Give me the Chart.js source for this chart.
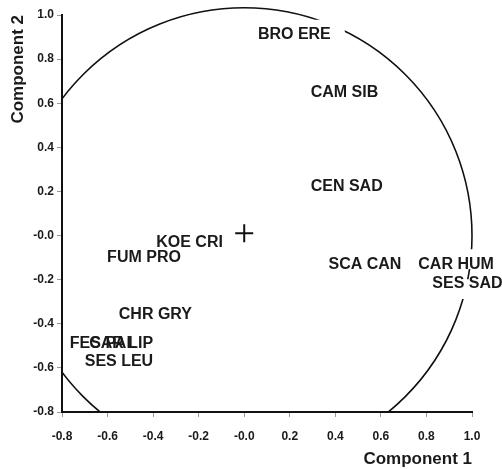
<!DOCTYPE html>
<html lang="en">
<head>
<meta charset="UTF-8">
<title>Component 1 vs Component 2</title>
<script src="https://cdn.jsdelivr.net/npm/chart.js@4"></script>
<style>
    body { margin: 0; background: #fff; }
    .wrap { width: 502px; height: 470px; position: relative; }
</style>
</head>
<body>
<div class="wrap"><canvas id="pca"></canvas></div>
<script>
// species labels and their loadings
const species = ['BRO ERE', 'CAM SIB', 'CEN SAD', 'SCA CAN', 'CAR HUM', 'SES SAD',
                 'KOE CRI', 'FUM PRO', 'CHR GRY', 'FES PAL', 'CAR LIP', 'SES LEU'];
const comp1 = [0.22, 0.44, 0.45, 0.53, 0.93, 0.98, -0.24, -0.44, -0.39, -0.62, -0.54, -0.55];
const comp2 = [0.91, 0.65, 0.22, -0.13, -0.13, -0.22, -0.03, -0.10, -0.36, -0.49, -0.49, -0.57];

// origin marker
const originX = [0];
const originY = [0.01];

const xTickLabels = ['-0.8', '-0.6', '-0.4', '-0.2', '-0.0', '0.2', '0.4', '0.6', '0.8', '1.0'];
const yTickLabels = ['-0.8', '-0.6', '-0.4', '-0.2', '-0.0', '0.2', '0.4', '0.6', '0.8', '1.0'];

const LABEL_FONT = 'bold 16px "Liberation Sans", Arial, sans-serif';

// gets the text boxes in pixels
function labelBoxes(chart) {
    const ctx = chart.ctx;
    const xs = chart.scales.x, ys = chart.scales.y;
    ctx.save();
    ctx.font = LABEL_FONT;
    const boxes = species.map((name, i) => {
        const w = ctx.measureText(name).width;
        const cx = xs.getPixelForValue(comp1[i]);
        const cy = ys.getPixelForValue(comp2[i]);
        return { name, cx, cy, w, h: 12 };
    });
    ctx.restore();
    return boxes;
}

const circlePlugin = {
    id: 'unitCircle',
    beforeDatasetsDraw(chart) {
        const { ctx, chartArea } = chart;
        const xs = chart.scales.x, ys = chart.scales.y;
        const cx = xs.getPixelForValue(0);
        const cy = ys.getPixelForValue(0);
        const r = xs.getPixelForValue(1) - cx;

        ctx.save();
        // clip to the plot side of the axes, leaving holes where labels sit
        ctx.beginPath();
        ctx.rect(chartArea.left, 0, chart.width - chartArea.left, chartArea.bottom);
        labelBoxes(chart).forEach(b => {
            ctx.rect(b.cx - b.w / 2 - 14, b.cy - b.h / 2 - 9, b.w + 28, b.h + 18);
        });
        ctx.clip('evenodd');

        ctx.beginPath();
        ctx.arc(cx, cy, r, 0, Math.PI * 2);
        ctx.strokeStyle = '#111';
        ctx.lineWidth = 1.6;
        ctx.stroke();
        ctx.restore();
    },
    afterDatasetsDraw(chart) {
        const ctx = chart.ctx;
        ctx.save();
        ctx.font = LABEL_FONT;
        ctx.fillStyle = '#1a1a1a';
        ctx.textAlign = 'center';
        ctx.textBaseline = 'middle';
        labelBoxes(chart).forEach(b => {
            ctx.fillText(b.name, b.cx, b.cy);
        });
        ctx.restore();
    }
};

const tickFont = { family: '"Liberation Sans", Arial, sans-serif', size: 12, weight: 'bold' };
const titleFont = { family: '"Liberation Sans", Arial, sans-serif', size: 17, weight: 'bold' };

new Chart(document.getElementById('pca'), {
    type: 'scatter',
    data: {
        datasets: [{
            data: originX.map((x, i) => ({ x: x, y: originY[i] })),
            pointStyle: 'cross',
            pointRadius: 9,
            borderColor: '#111',
            borderWidth: 2
        }]
    },
    options: {
        responsive: true,
        maintainAspectRatio: false,
        animation: false,
        layout: { padding: { top: 15, right: 30, left: 0, bottom: 0 } },
        plugins: {
            legend: { display: false },
            tooltip: { enabled: false }
        },
        scales: {
            x: {
                type: 'linear',
                min: -0.8,
                max: 1.0,
                afterFit(scale) { scale.height = 58; },
                grid: { drawOnChartArea: false, tickLength: 5, color: '#999' },
                border: { color: '#111', width: 2 },
                ticks: {
                    stepSize: 0.2,
                    padding: 12,
                    color: '#1a1a1a',
                    font: tickFont,
                    maxRotation: 0,
                    callback: (v, i) => xTickLabels[i]
                },
                title: {
                    display: true,
                    text: 'Component 1',
                    align: 'end',
                    color: '#1a1a1a',
                    font: titleFont,
                    padding: { top: 0, bottom: 0 }
                }
            },
            y: {
                type: 'linear',
                min: -0.8,
                max: 1.0,
                afterFit(scale) { scale.width = 62; },
                grid: { drawOnChartArea: false, tickLength: 5, color: '#999' },
                border: { color: '#111', width: 2 },
                ticks: {
                    stepSize: 0.2,
                    padding: 3,
                    color: '#1a1a1a',
                    font: tickFont,
                    callback: (v, i) => yTickLabels[i]
                },
                title: {
                    display: true,
                    text: 'Component 2',
                    align: 'end',
                    color: '#1a1a1a',
                    font: titleFont,
                    padding: { top: 8, bottom: 0 }
                }
            }
        }
    },
    plugins: [circlePlugin]
});
</script>
</body>
</html>
